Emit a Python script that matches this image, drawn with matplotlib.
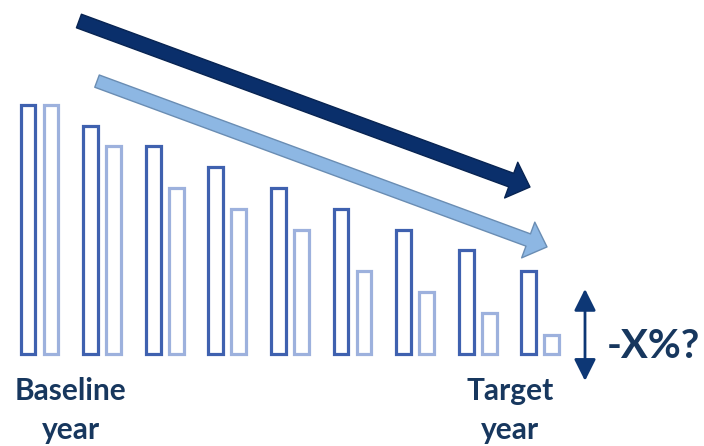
import numpy as np
import matplotlib
matplotlib.use("Agg")
import matplotlib.pyplot as plt
from matplotlib.patches import FancyArrowPatch

# ---------------------------------------------------
# DATA – emissions-style index per step, baseline -> target
# ---------------------------------------------------
steps = np.arange(9)
trend_dark = [12, 11, 10, 9, 8, 7, 6, 5, 4]       # slower pathway
trend_light = [12, 10, 8, 7, 6, 4, 3, 2, 0.95]    # faster pathway
label_start = "Baseline\nyear"
label_end = "Target\nyear"
label_change = "-X%?"

# ---------------------------------------------------
# STYLE
# ---------------------------------------------------
DARK_EDGE = "#3F61AF"
LIGHT_EDGE = "#9DB1DD"
NAVY = "#0A2F6B"
NAVY_EDGE = "#082452"
SKY = "#8DB7E3"
SKY_EDGE = "#6A8DB3"
TEXT = "#17375E"
BAR_W = 0.235
OFFSET = 0.183
PT = 72 / 100  # pixels -> points at dpi 100

plt.rcParams["font.family"] = ["Lato", "DejaVu Sans"]

fig = plt.figure(figsize=(7.04, 4.46), dpi=100)
ax = fig.add_axes([0, 0, 1, 1])
ax.set_xlim(-0.631, 10.615)
ax.set_ylim(-4.40, 17.04)
ax.axis("off")

ax.bar(steps - OFFSET, trend_dark, BAR_W, facecolor="white",
       edgecolor=DARK_EDGE, linewidth=2.3, joinstyle="miter", zorder=2)
ax.bar(steps + OFFSET, trend_light, BAR_W, facecolor="white",
       edgecolor=LIGHT_EDGE, linewidth=2.3, joinstyle="miter", zorder=2)


def big_arrow(start, end, face, edge, tail_px):
    style = (f"simple,head_length={20 * PT:.1f},"
             f"head_width={38 * PT:.1f},tail_width={tail_px * PT:.1f}")
    arr = FancyArrowPatch(start, end, arrowstyle=style, mutation_scale=1,
                          facecolor=face, edgecolor=edge, linewidth=1.0,
                          shrinkA=0, shrinkB=0, zorder=3)
    ax.add_patch(arr)


# trend arrows above the bars
big_arrow((0.63, 16.03), (7.835, 8.05), NAVY, NAVY_EDGE, 14.5)
big_arrow((0.919, 13.14), (8.107, 5.17), SKY, SKY_EDGE, 13)

# vertical double arrow showing the reduction
ax.annotate("", xy=(8.714, -1.27), xytext=(8.714, 3.15),
            arrowprops=dict(arrowstyle="<|-|>,head_length=1.1,head_width=0.55",
                            color="#0D3775", linewidth=2.0,
                            shrinkA=0, shrinkB=0, mutation_scale=12))

ax.text(9.066, 0.36, label_change, ha="left", va="center",
        fontsize=29, fontweight="bold", color=TEXT)

ax.text(0.5, -1.1, label_start, ha="center", va="top", fontsize=21.5,
        fontweight="bold", color=TEXT, linespacing=1.45)
ax.text(7.516, -1.1, label_end, ha="center", va="top", fontsize=21.5,
        fontweight="bold", color=TEXT, linespacing=1.45)

fig.savefig("out.png", dpi=100, facecolor="white")
